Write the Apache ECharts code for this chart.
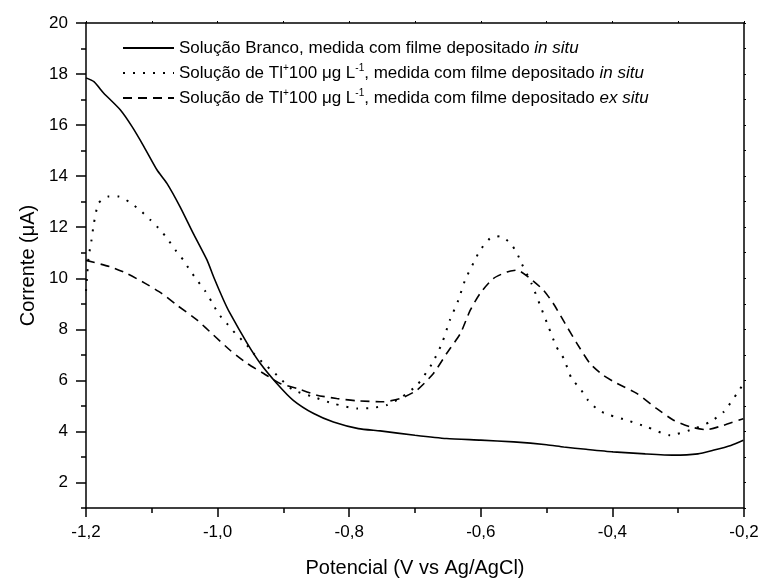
<!DOCTYPE html>
<html>
<head>
<meta charset="utf-8">
<script src="https://cdn.jsdelivr.net/npm/echarts@6/dist/echarts.min.js"></script>
<style>html,body{margin:0;padding:0;background:#fff}#c{width:762px;height:583px}</style>
</head>
<body>
<div id="c"></div>
<script>
// ---- data ----
const brancoX = [-1.200,-1.188,-1.173,-1.148,-1.130,-1.112,-1.092,-1.077,-1.057,-1.037,-1.016,-1.006,-0.991,-0.981,-0.955,-0.935,-0.910,-0.885,-0.854,-0.824,-0.786,-0.753,-0.700,-0.652,-0.600,-0.550,-0.500,-0.474,-0.440,-0.399,-0.350,-0.307,-0.270,-0.247,-0.220,-0.201];
const brancoY = [17.85,17.70,17.25,16.60,15.94,15.16,14.24,13.72,12.80,11.76,10.71,10.05,9.15,8.62,7.45,6.66,5.88,5.22,4.70,4.37,4.11,4.02,3.85,3.72,3.66,3.59,3.48,3.39,3.30,3.20,3.12,3.07,3.12,3.26,3.45,3.65];

const inSituX = [-1.200,-1.198,-1.196,-1.192,-1.188,-1.181,-1.166,-1.150,-1.135,-1.118,-1.102,-1.087,-1.075,-1.064,-1.052,-1.042,-1.031,-1.019,-1.009,-0.999,-0.986,-0.973,-0.958,-0.945,-0.930,-0.915,-0.902,-0.885,-0.854,-0.824,-0.788,-0.765,-0.743,-0.720,-0.697,-0.674,-0.659,-0.647,-0.634,-0.624,-0.609,-0.601,-0.586,-0.571,-0.555,-0.545,-0.538,-0.523,-0.510,-0.497,-0.485,-0.474,-0.462,-0.449,-0.437,-0.421,-0.404,-0.378,-0.348,-0.312,-0.282,-0.252,-0.231,-0.209,-0.200];
const inSituY = [9.5,10.2,10.84,11.43,12.15,12.94,13.20,13.20,13.00,12.67,12.28,11.89,11.50,11.10,10.71,10.31,9.92,9.50,9.08,8.62,8.23,7.84,7.45,7.05,6.66,6.33,6.00,5.62,5.35,5.09,4.90,4.92,5.03,5.35,5.81,6.66,7.45,8.36,9.15,9.92,10.71,11.10,11.56,11.65,11.37,10.98,10.58,9.80,8.95,8.09,7.31,6.86,6.07,5.68,5.22,4.83,4.64,4.44,4.18,3.85,4.05,4.37,4.76,5.55,5.90];

const exSituX = [-1.200,-1.163,-1.138,-1.110,-1.085,-1.062,-1.031,-1.006,-0.981,-0.955,-0.930,-0.905,-0.879,-0.849,-0.819,-0.788,-0.748,-0.722,-0.697,-0.672,-0.652,-0.631,-0.616,-0.601,-0.581,-0.560,-0.545,-0.525,-0.505,-0.490,-0.472,-0.454,-0.434,-0.414,-0.393,-0.363,-0.333,-0.307,-0.282,-0.257,-0.231,-0.201];
const exSituY = [10.70,10.45,10.19,9.80,9.41,8.95,8.36,7.77,7.18,6.66,6.27,5.88,5.68,5.42,5.29,5.20,5.16,5.29,5.62,6.27,7.05,7.84,8.75,9.41,9.99,10.25,10.32,9.99,9.54,9.02,8.23,7.45,6.66,6.20,5.88,5.49,4.90,4.44,4.18,4.07,4.24,4.50];

const yMajorTicks = [2,4,6,8,10,12,14,16,18,20];
const yMinorTicks = [1,3,5,7,9,11,13,15,17,19];

const legendTexts = {
  branco: 'Solução Branco, medida com filme depositado {i|in situ}',
  insitu: 'Solução de Tl{sup|+}100 μg L{sup|-1}, medida com filme depositado {i|in situ}',
  exsitu: 'Solução de Tl{sup|+}100 μg L{sup|-1}, medida com filme depositado {i|ex situ}'
};

const FONT = "'Liberation Sans', Arial, sans-serif";
const zip = (xs, ys) => xs.map((x, i) => [x, ys[i]]);
const fmt = v => v.toFixed(1).replace('.', ',');

const chart = echarts.init(document.getElementById('c'), null, {renderer: 'canvas'});
chart.setOption({
  animation: false,
  backgroundColor: '#fff',
  textStyle: {fontFamily: FONT, color: '#000'},
  grid: {left: 86, right: 18, top: 23, bottom: 75, containLabel: false},
  legend: {
    left: 122, top: 38, orient: 'vertical', padding: 0,
    itemWidth: 51, itemHeight: 14, itemGap: 5,
    itemStyle: {color: 'rgba(0,0,0,0)', borderWidth: 0, opacity: 0},
    textStyle: {
      fontFamily: FONT, fontSize: 17, color: '#000', lineHeight: 20,
      rich: {
        i: {fontFamily: FONT, fontSize: 17, fontStyle: 'italic', color: '#000', lineHeight: 20},
        sup: {fontFamily: FONT, fontSize: 10, color: '#000', verticalAlign: 'top', lineHeight: 10}
      }
    },
    formatter: name => legendTexts[name],
    data: ['branco', 'insitu', 'exsitu']
  },
  xAxis: [{
    type: 'value', min: -1.2, max: -0.2, interval: 0.2, position: 'bottom',
    name: 'Potencial (V vs Ag/AgCl)', nameLocation: 'middle', nameGap: 50,
    nameTextStyle: {fontFamily: FONT, fontSize: 20, color: '#000'},
    axisLine: {show: true, onZero: false, lineStyle: {color: '#000', width: 1.5}},
    axisTick: {show: true, inside: false, length: 9, lineStyle: {color: '#000', width: 1.5}},
    minorTick: {show: true, splitNumber: 2, length: 5, lineStyle: {color: '#000', width: 1.5}},
    axisLabel: {fontFamily: FONT, fontSize: 17, color: '#000', margin: 16, formatter: fmt},
    splitLine: {show: false}
  }, {
    type: 'value', min: -1.2, max: -0.2, interval: 0.1, position: 'top',
    axisLine: {show: true, onZero: false, lineStyle: {color: '#000', width: 1.5}},
    axisTick: {show: true, inside: false, length: 2, lineStyle: {color: '#000', width: 1}},
    axisLabel: {show: false}, splitLine: {show: false}
  }],
  yAxis: [{
    type: 'value', min: 1, max: 20, interval: 1, position: 'left', offset: 0,
    name: 'Corrente (μA)', nameLocation: 'middle', nameGap: 46, nameRotate: 90,
    nameTextStyle: {fontFamily: FONT, fontSize: 20, color: '#000'},
    axisLine: {show: true, onZero: false, lineStyle: {color: '#000', width: 1.5}},
    axisTick: {show: true, inside: false, length: 10, customValues: yMajorTicks, lineStyle: {color: '#000', width: 1.5}},
    axisLabel: {fontFamily: FONT, fontSize: 17, color: '#000', margin: 18, customValues: yMajorTicks},
    splitLine: {show: false}
  }, {
    type: 'value', min: 1, max: 20, interval: 1, position: 'left', offset: 0,
    axisLine: {show: false},
    axisTick: {show: true, inside: false, length: 5, customValues: yMinorTicks, lineStyle: {color: '#000', width: 1.5}},
    axisLabel: {show: false}, splitLine: {show: false}
  }, {
    type: 'value', min: 1, max: 20, interval: 1, position: 'right', offset: 0,
    axisLine: {show: true, onZero: false, lineStyle: {color: '#000', width: 1.5}},
    axisTick: {show: true, inside: false, length: 2, lineStyle: {color: '#000', width: 1}},
    axisLabel: {show: false}, splitLine: {show: false}
  }],
  series: [{
    name: 'branco', type: 'line', xAxisIndex: 0, yAxisIndex: 0,
    data: zip(brancoX, brancoY), symbol: 'none', smooth: 0.2,
    lineStyle: {color: '#000', width: 1.6, type: 'solid'}, itemStyle: {color: '#000'}
  }, {
    name: 'insitu', type: 'line', xAxisIndex: 0, yAxisIndex: 0,
    data: zip(inSituX, inSituY), symbol: 'none', smooth: 0.2,
    lineStyle: {color: '#000', width: 2, type: [2, 8], cap: 'butt'}, itemStyle: {color: '#000'}
  }, {
    name: 'exsitu', type: 'line', xAxisIndex: 0, yAxisIndex: 0,
    data: zip(exSituX, exSituY), symbol: 'none', smooth: 0.2,
    lineStyle: {color: '#000', width: 1.6, type: [9, 6]}, itemStyle: {color: '#000'}
  }]
});
</script>
</body>
</html>
